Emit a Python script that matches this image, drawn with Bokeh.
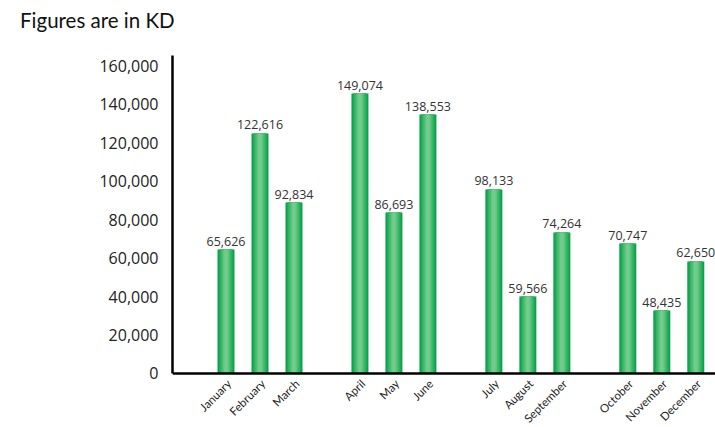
import math
from bokeh.plotting import figure
from bokeh.models import ColumnDataSource, FixedTicker, NumeralTickFormatter, Span, Div
from bokeh.layouts import column
from bokeh.core.properties import value
from bokeh.embed import file_html
from bokeh.resources import INLINE

title_text = "Figures are in KD"
months = ["January", "February", "March", "April", "May", "June",
          "July", "August", "September", "October", "November", "December"]
# bar heights as drawn in the picture
bar_heights = [64400, 124700, 88800, 145450, 83600, 134500,
               95600, 40000, 73250, 67500, 32700, 58200]
# value labels as printed above the bars
bar_labels = ["65,626", "122,616", "92,834", "149,074", "86,693", "138,553",
              "98,133", "59,566", "74,264", "70,747", "48,435", "62,650"]
y_ticks = [0, 20000, 40000, 60000, 80000, 100000, 120000, 140000, 160000]

quarter_gap = 0.94
xs = [i + quarter_gap * (i // 3) for i in range(len(months))]

src = ColumnDataSource(dict(x=xs, top=bar_heights, label=bar_labels,
                            month=months, base=[0] * len(months)))

FONT = "Lato"
NUMFONT = "Open Sans"

Y_TOP = 165200
Y_BOTTOM = -28053  # room below the baseline for the rotated month names

p = figure(width=715, height=372, output_backend="svg", toolbar_location=None,
           x_range=(-1.574, 14.4), y_range=(Y_BOTTOM, Y_TOP),
           min_border_left=172, min_border_right=0, min_border_top=0,
           min_border_bottom=0, margin=0)
p.outline_line_color = None
p.grid.visible = False
p.background_fill_color = "white"
p.xaxis.visible = False

# gradient-like bars: darker edges, lighter center
layers = [(0.50, "#0aa14a"), (0.42, "#1daa56"), (0.34, "#33b464"),
          (0.26, "#4abd73"), (0.18, "#5ec580"), (0.10, "#74cc8c")]
for w, c in layers:
    p.vbar(x="x", top="top", bottom=0, width=w, source=src,
           fill_color=c, line_color=None)

p.text(x="x", y="top", text="label", source=src, y_offset=-4,
       text_align="center", text_baseline="bottom",
       text_font=value(NUMFONT), text_font_size="12.5px", text_color="#333333")

# month labels, rotated
p.text(x="x", y="base", text="month", source=src,
       angle=math.pi / 4, text_align="right", text_baseline="middle",
       x_offset=3, y_offset=8,
       text_font=value(FONT), text_font_size="11.5px", text_color="#222222")

# baseline (x axis line)
p.add_layout(Span(location=0, dimension="width", line_color="black", line_width=2.5))

# y axis
p.yaxis.bounds = (0, Y_TOP)
p.yaxis.ticker = FixedTicker(ticks=y_ticks)
p.yaxis.formatter = NumeralTickFormatter(format="0,0")
p.yaxis.major_tick_line_color = None
p.yaxis.minor_tick_line_color = None
p.yaxis.axis_line_width = 2.5
p.yaxis.axis_line_color = "black"
p.yaxis.major_label_text_font = NUMFONT
p.yaxis.major_label_text_font_size = "16px"
p.yaxis.major_label_text_color = "#222222"
p.yaxis.major_label_standoff = 8

title = Div(text=title_text, width=715, height=55, margin=0,
            styles={"font-family": "Lato", "font-size": "20.5px", "color": "#111111",
                    "padding-left": "20px", "padding-top": "7px",
                    "line-height": "26px", "box-sizing": "border-box"})

layout = column(title, p, spacing=0, margin=0)

open("out.html", "w").write(file_html(layout, INLINE))
